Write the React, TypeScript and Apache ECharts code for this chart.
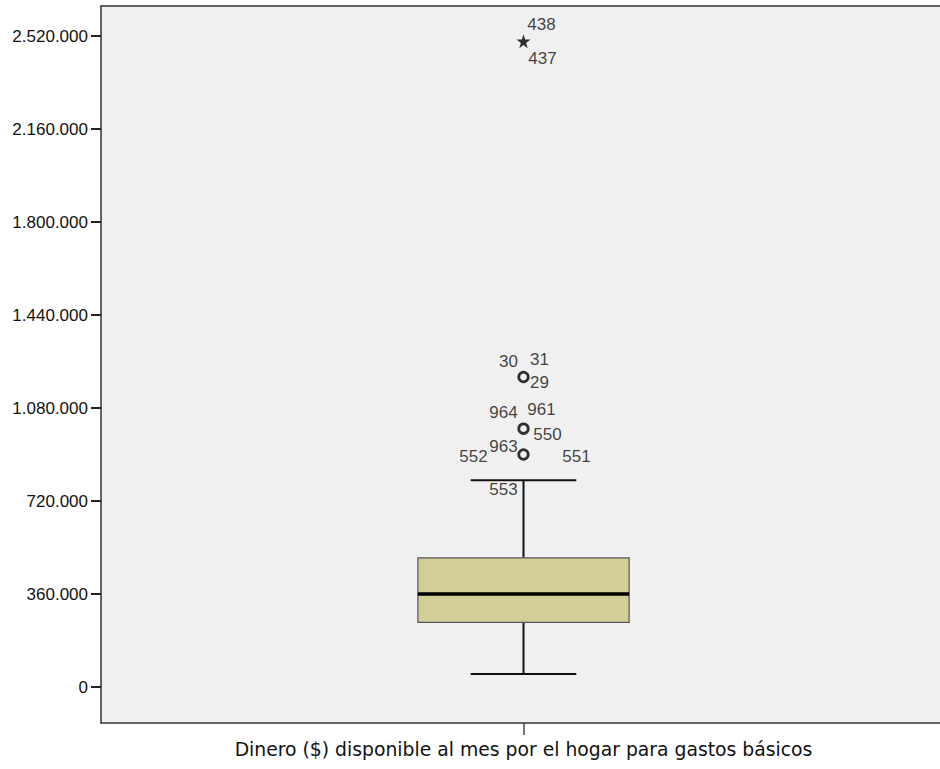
import React, { useEffect, useRef } from "react";
import * as echarts from "echarts";

const categories = ["Dinero ($) disponible al mes por el hogar para gastos básicos"];
// [min whisker, Q1, median, Q3, max whisker]
const boxStats = [50000, 250000, 360000, 500000, 800000];
const outlierValues = [900000, 1000000, 1200000];
const extremeValues = [2500000];
const tickValues = [0, 360000, 720000, 1080000, 1440000, 1800000, 2160000, 2520000];
// case labels attached to each outlier value
const outlierCases: [number, string][] = [
  [2500000, "438"], [2500000, "437"],
  [1200000, "30"], [1200000, "31"], [1200000, "29"],
  [1000000, "964"], [1000000, "961"], [1000000, "550"],
  [900000, "552"], [900000, "963"], [900000, "551"], [900000, "553"],
];
// label placement (pixel offsets from the point)
const labelOffsets: [number, number][] = [
  [18, -17], [19, 17],
  [-15, -16], [16, -18], [16, 5],
  [-20, -16], [18, -19], [24, 6],
  [-50, 2], [-20, -8], [53, 2], [-20, 35],
];

const yMin = -139355;
const yMax = 2636129;

const fmt = (v: number) => String(Math.round(v)).replace(/\B(?=(\d{3})+(?!\d))/g, ".");

const STAR = "path://M50,0 L61,35 L98,35 L68,57 L79,91 L50,70 L21,91 L32,57 L2,35 L39,35 Z";
const FONT = "Liberation Sans";

export default function App() {
  const ref = useRef<HTMLDivElement>(null);
  useEffect(() => {
    document.body.style.margin = "0";
    const chart = echarts.init(ref.current!, null, { renderer: "svg" });
    chart.setOption({
      animation: false,
      backgroundColor: "#ffffff",
      grid: {
        left: 101,
        top: 6,
        width: 845,
        height: 717,
        outerBoundsMode: "none",
        containLabel: false,
        show: true,
        backgroundColor: "#F0F0F0",
        borderWidth: 0,
      },
      xAxis: [
        {
          type: "category",
          data: categories,
          axisLine: { show: true, onZero: false, lineStyle: { color: "#333333", width: 1.5 } },
          axisTick: { show: true, alignWithLabel: true, length: 12, lineStyle: { color: "#444", width: 1.5 } },
          axisLabel: { color: "#111", fontFamily: "DejaVu Sans", fontSize: 18.8, margin: 17 },
          splitLine: { show: false },
        },
        {
          type: "category",
          data: categories,
          position: "top",
          axisLine: { show: true, onZero: false, lineStyle: { color: "#333333", width: 1.5 } },
          axisTick: { show: false },
          axisLabel: { show: false },
          splitLine: { show: false },
        },
      ],
      yAxis: {
        type: "value",
        min: yMin,
        max: yMax,
        axisLine: { show: true, lineStyle: { color: "#333333", width: 1.5 } },
        axisTick: { show: true, length: 10, lineStyle: { color: "#222", width: 2 }, customValues: tickValues },
        axisLabel: {
          color: "#111",
          fontFamily: FONT,
          fontSize: 17,
          margin: 13,
          customValues: tickValues,
          formatter: (v: number) => fmt(v),
        },
        splitLine: { show: false },
      },
      series: [
        {
          type: "custom",
          data: [[0, ...boxStats]],
          renderItem: (params: any, api: any) => {
            const c = (v: number) => api.coord([api.value(0), v]);
            const [cx, yLo] = c(api.value(1));
            const yQ1 = c(api.value(2))[1];
            const yMed = c(api.value(3))[1];
            const yQ3 = c(api.value(4))[1];
            const yHi = c(api.value(5))[1];
            const band = api.size([1, 0])[0];
            const hb = band * 0.125;
            const hc = band * 0.0625;
            const ls = { stroke: "#111", lineWidth: 2 };
            return {
              type: "group",
              children: [
                { type: "line", shape: { x1: cx, y1: yQ3, x2: cx, y2: yHi }, style: ls },
                { type: "line", shape: { x1: cx, y1: yQ1, x2: cx, y2: yLo }, style: ls },
                { type: "line", shape: { x1: cx - hc, y1: yHi, x2: cx + hc, y2: yHi }, style: ls },
                { type: "line", shape: { x1: cx - hc, y1: yLo, x2: cx + hc, y2: yLo }, style: ls },
                {
                  type: "rect",
                  shape: { x: cx - hb, y: yQ3, width: hb * 2, height: yQ1 - yQ3 },
                  style: { fill: "#D3CE97", stroke: "#555", lineWidth: 1.2 },
                },
                { type: "line", shape: { x1: cx - hb, y1: yMed, x2: cx + hb, y2: yMed }, style: { stroke: "#000", lineWidth: 3.5 } },
              ],
            };
          },
          z: 2,
        },
        {
          type: "scatter",
          data: outlierValues.map((v) => [0, v]),
          symbol: "circle",
          symbolSize: 9.5,
          itemStyle: { color: "#F0F0F0", borderColor: "#000", borderWidth: 2.8 },
          z: 3,
        },
        {
          type: "scatter",
          data: extremeValues.map((v) => [0, v]),
          symbol: STAR,
          symbolSize: 14,
          itemStyle: { color: "#000" },
          z: 3,
        },
        {
          type: "scatter",
          data: outlierCases.map(([v, id], i) => ({
            value: [0, v],
            label: {
              show: true,
              formatter: id,
              position: "inside",
              offset: labelOffsets[i],
              color: "#111",
              fontFamily: FONT,
              fontSize: 17,
            },
          })),
          symbolSize: 1,
          itemStyle: { color: "rgba(0,0,0,0)" },
          silent: true,
          z: 4,
        },
      ],
    });
    return () => chart.dispose();
  }, []);
  return (
    <div style={{ width: 940, height: 769, overflow: "hidden" }}>
      <div ref={ref} style={{ width: 960, height: 769 }} />
    </div>
  );
}
